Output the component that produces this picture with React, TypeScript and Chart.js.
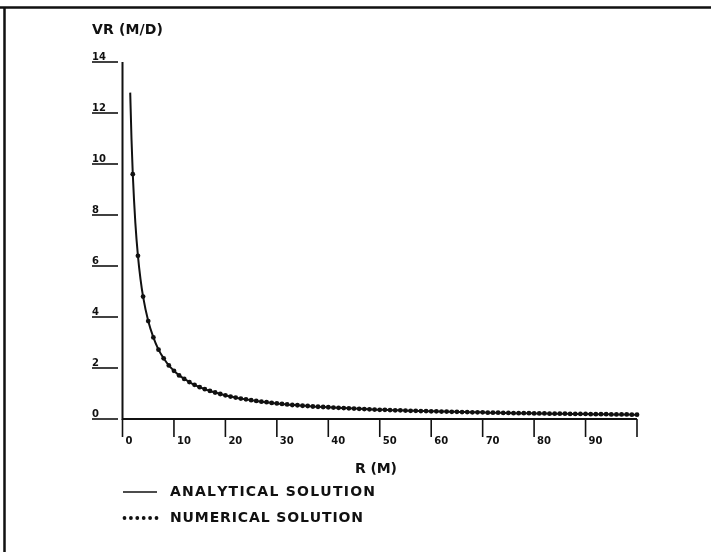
import React, { useEffect, useRef } from "react";
import { Chart, registerables } from "chart.js";

Chart.register(...registerables);

// ---- data ----
const numericalR = [
  2, 3, 4, 5, 6, 7, 8, 9, 10, 11, 12, 13, 14, 15, 16, 17, 18, 19, 20, 21, 22, 23, 24, 25, 26, 27, 28, 29, 30,
  31, 32, 33, 34, 35, 36, 37, 38, 39, 40, 41, 42, 43, 44, 45, 46, 47, 48, 49, 50, 51, 52, 53, 54, 55, 56, 57, 58,
  59, 60, 61, 62, 63, 64, 65, 66, 67, 68, 69, 70, 71, 72, 73, 74, 75, 76, 77, 78, 79, 80, 81, 82, 83, 84, 85, 86,
  87, 88, 89, 90, 91, 92, 93, 94, 95, 96, 97, 98, 99, 100,
];
const numericalVR = [
  9.6, 6.4, 4.8, 3.84, 3.2, 2.72, 2.38, 2.1, 1.89, 1.71, 1.57, 1.45, 1.34, 1.25, 1.17, 1.1, 1.04, 0.98, 0.93,
  0.88, 0.84, 0.8, 0.77, 0.74, 0.71, 0.68, 0.66, 0.63, 0.61, 0.59, 0.57, 0.55, 0.54, 0.52, 0.51, 0.49, 0.48,
  0.47, 0.46, 0.45, 0.44, 0.43, 0.42, 0.41, 0.4, 0.39, 0.38, 0.37, 0.36, 0.36, 0.35, 0.34, 0.34, 0.33, 0.32,
  0.32, 0.31, 0.31, 0.3, 0.3, 0.29, 0.29, 0.28, 0.28, 0.27, 0.27, 0.26, 0.26, 0.26, 0.25, 0.25, 0.25, 0.24,
  0.24, 0.23, 0.23, 0.23, 0.23, 0.22, 0.22, 0.22, 0.21, 0.21, 0.21, 0.21, 0.2, 0.2, 0.2, 0.2, 0.19, 0.19, 0.19,
  0.19, 0.18, 0.18, 0.18, 0.18, 0.17, 0.17,
];
const analyticalStartR = [1.5, 1.75, 2.5, 3.5];
const analyticalStartVR = [12.8, 10.97, 7.68, 5.49];

const xTicks = [0, 10, 20, 30, 40, 50, 60, 70, 80, 90, 100];
const xTickLabels = ["0", "10", "20", "30", "40", "50", "60", "70", "80", "90", ""];
const yTicks = [0, 2, 4, 6, 8, 10, 12, 14];
const yTickLabels = ["0", "2", "4", "6", "8", "10", "12", "14"];

const yTitle = "VR (M/D)";
const xTitle = "R (M)";
const legendAnalytical = "ANALYTICAL SOLUTION";
const legendNumerical = "NUMERICAL SOLUTION";

const FONT = '"DejaVu Sans", "Liberation Sans", Arial, sans-serif';
const INK = "#111";

function drawSpaced(ctx: CanvasRenderingContext2D, text: string, x: number, y: number, target: number) {
  const chars = text.split("");
  const widths = chars.map((c) => ctx.measureText(c).width);
  const natural = widths.reduce((a, b) => a + b, 0);
  const gap = chars.length > 1 ? (target - natural) / (chars.length - 1) : 0;
  let cx = x;
  chars.forEach((c, i) => {
    ctx.fillText(c, cx, y);
    cx += widths[i] + gap;
  });
}

const decorPlugin = {
  id: "decor",
  beforeDatasetsDraw(chart: any) {
    const ctx: CanvasRenderingContext2D = chart.ctx;
    const xs = chart.scales.x;
    const ys = chart.scales.y;
    const x0 = xs.getPixelForValue(0);
    const x100 = xs.getPixelForValue(100);
    const y0 = ys.getPixelForValue(0);
    const y14 = ys.getPixelForValue(14);
    ctx.save();
    ctx.strokeStyle = INK;
    ctx.fillStyle = INK;

    // frame (top and left)
    ctx.lineWidth = 2.5;
    ctx.beginPath();
    ctx.moveTo(0, 7.5);
    ctx.lineTo(711, 7.5);
    ctx.moveTo(4.5, 7.5);
    ctx.lineTo(4.5, 552);
    ctx.stroke();

    // axes
    ctx.lineWidth = 2;
    ctx.beginPath();
    ctx.moveTo(x0, y14);
    ctx.lineTo(x0, y0);
    ctx.lineTo(x100, y0);
    ctx.stroke();

    // y ticks + labels
    ctx.lineWidth = 1.6;
    ctx.font = `bold 10px ${FONT}`;
    ctx.textBaseline = "alphabetic";
    ctx.textAlign = "left";
    yTicks.forEach((v, i) => {
      const py = ys.getPixelForValue(v);
      ctx.beginPath();
      ctx.moveTo(92, py);
      ctx.lineTo(118, py);
      ctx.stroke();
      ctx.fillText(yTickLabels[i], 92, py - 2.5);
    });

    // x ticks + labels
    xTicks.forEach((v, i) => {
      const px = xs.getPixelForValue(v);
      ctx.beginPath();
      ctx.moveTo(px, y0);
      ctx.lineTo(px, y0 + 18);
      ctx.stroke();
      if (xTickLabels[i]) ctx.fillText(xTickLabels[i], px + 3, y0 + 25);
    });

    // titles
    ctx.font = `bold 14px ${FONT}`;
    ctx.textBaseline = "middle";
    drawSpaced(ctx, yTitle, 92, 30, 71);
    drawSpaced(ctx, xTitle, 355, 469, 42);

    // legend
    ctx.font = `bold 14px ${FONT}`;
    const r1 = 492;
    const r2 = 518;
    ctx.lineWidth = 1.5;
    ctx.beginPath();
    ctx.moveTo(123, r1);
    ctx.lineTo(157, r1);
    ctx.stroke();
    drawSpaced(ctx, legendAnalytical, 170, r1, 205);
    for (let k = 0; k < 6; k++) {
      ctx.beginPath();
      ctx.arc(124.5 + k * 6.4, r2, 1.9, 0, Math.PI * 2);
      ctx.fill();
    }
    drawSpaced(ctx, legendNumerical, 170, r2, 193);
    ctx.restore();
  },
};

export default function App() {
  const ref = useRef<HTMLCanvasElement | null>(null);
  useEffect(() => {
    if (!ref.current) return;
    const numPts = numericalR.map((r, i) => ({ x: r, y: numericalVR[i] }));
    const anaPts = analyticalStartR
      .map((r, i) => ({ x: r, y: analyticalStartVR[i] }))
      .concat(numPts)
      .sort((a, b) => a.x - b.x);
    const chart = new Chart(ref.current, {
      type: "scatter",
      data: {
        datasets: [
          {
            label: legendAnalytical,
            data: anaPts,
            showLine: true,
            borderColor: INK,
            borderWidth: 2,
            pointRadius: 0,
            cubicInterpolationMode: "monotone",
            clip: false as any,
          },
          {
            label: legendNumerical,
            data: numPts,
            showLine: false,
            pointRadius: 2.4,
            pointBorderWidth: 0,
            backgroundColor: INK,
            borderColor: INK,
            clip: false as any,
          },
        ],
      },
      options: {
        animation: false,
        responsive: false,
        devicePixelRatio: 1,
        layout: { padding: { left: 122.5, right: 74, top: 62, bottom: 133 } },
        plugins: { legend: { display: false }, tooltip: { enabled: false } },
        scales: {
          x: { type: "linear", min: 0, max: 100, display: false },
          y: { type: "linear", min: 0, max: 14, display: false },
        },
      },
      plugins: [decorPlugin],
    });
    return () => chart.destroy();
  }, []);
  return (
    <div style={{ position: "fixed", left: 0, top: 0, width: 711, height: 552, background: "#fff" }}>
      <canvas ref={ref} width={711} height={552} style={{ display: "block" }} />
    </div>
  );
}
